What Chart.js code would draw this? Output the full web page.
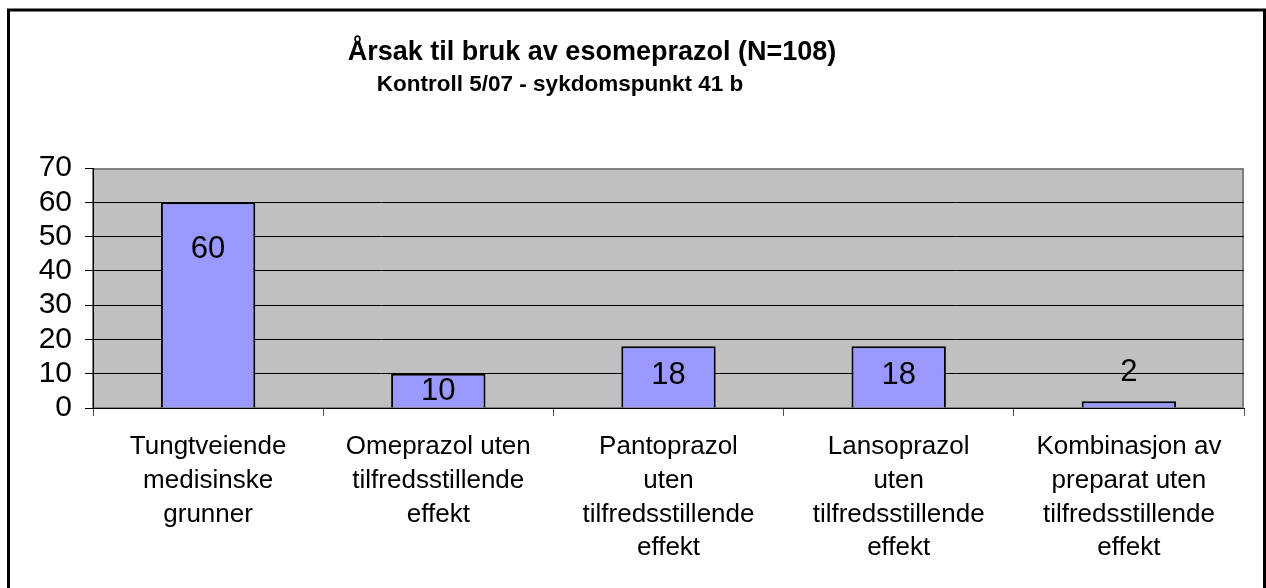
<!DOCTYPE html>
<html>
<head>
<meta charset="utf-8">
<script src="https://cdn.jsdelivr.net/npm/chart.js@4/dist/chart.umd.min.js"></script>
<style>
html,body{margin:0;padding:0;background:#fff;}
#wrap{width:1266px;height:588px;position:relative;}
</style>
</head>
<body>
<div id="wrap"><canvas id="c" width="1266" height="588"></canvas></div>
<script>
const titleText = "Årsak til bruk av esomeprazol (N=108)";
const subtitleText = "Kontroll 5/07 - sykdomspunkt 41 b";
const categories = [
  ["Tungtveiende", "medisinske", "grunner"],
  ["Omeprazol uten", "tilfredsstillende", "effekt"],
  ["Pantoprazol", "uten", "tilfredsstillende", "effekt"],
  ["Lansoprazol", "uten", "tilfredsstillende", "effekt"],
  ["Kombinasjon av", "preparat uten", "tilfredsstillende", "effekt"]
];
const values = [60, 10, 18, 18, 2];
const yTicks = [0, 10, 20, 30, 40, 50, 60, 70];
// pixel offsets of the value label centre below the bar top (negative = above)
const labelOffsets = [47, 18, 29, 29, -29];

const FONT = "'Liberation Sans', Arial, sans-serif";

const decorPlugin = {
  id: 'decor',
  beforeDraw(chart) {
    const {ctx, chartArea: a} = chart;
    ctx.save();
    ctx.fillStyle = '#c0c0c0';
    ctx.fillRect(a.left, a.top, a.right - a.left, a.bottom - a.top);
    ctx.strokeStyle = '#808080';
    ctx.lineWidth = 2;
    ctx.strokeRect(a.left, a.top + 1, a.right - a.left - 1, a.bottom - a.top - 1);
    // outer frame
    ctx.strokeStyle = '#000';
    ctx.lineWidth = 3;
    ctx.strokeRect(8.5, 10, 1256, 600);
    // titles
    ctx.fillStyle = '#000';
    ctx.textAlign = 'center';
    ctx.textBaseline = 'middle';
    ctx.font = 'bold 27px ' + FONT;
    ctx.fillText(titleText, 592, 53);
    ctx.font = 'bold 22.5px ' + FONT;
    ctx.fillText(subtitleText, 560, 85);
    ctx.restore();
  },
  afterDatasetsDraw(chart) {
    const {ctx} = chart;
    const meta = chart.getDatasetMeta(0);
    ctx.save();
    ctx.fillStyle = '#000';
    ctx.font = '31px ' + FONT;
    ctx.textAlign = 'center';
    ctx.textBaseline = 'middle';
    meta.data.forEach((bar, i) => {
      ctx.fillText(String(values[i]), bar.x, bar.y + labelOffsets[i]);
    });
    ctx.restore();
  }
};

new Chart(document.getElementById('c'), {
  type: 'bar',
  data: {
    labels: categories,
    datasets: [{
      data: values,
      backgroundColor: '#9999ff',
      borderColor: '#000',
      borderWidth: 2,
      barPercentage: 0.41,
      categoryPercentage: 1
    }]
  },
  options: {
    responsive: false,
    animation: false,
    layout: {padding: {left: 0, top: 168, right: 22, bottom: 0}},
    plugins: {legend: {display: false}, tooltip: {enabled: false}, title: {display: false}},
    scales: {
      x: {
        afterFit(s) { s.height = 180; },
        grid: {offset: true, drawOnChartArea: false, drawTicks: true, tickLength: 8, color: '#555', lineWidth: 1},
        border: {color: '#000', width: 1},
        ticks: {
          color: '#000',
          font: {family: FONT, size: 26, lineHeight: 1.3},
          padding: 14,
          maxRotation: 0,
          autoSkip: false
        }
      },
      y: {
        min: 0,
        max: 70,
        afterFit(s) { s.width = 93; },
        afterBuildTicks(s) { s.ticks = yTicks.map(v => ({value: v})); },
        grid: {
          color: c => (c.tick && c.tick.value === 70) ? 'rgba(0,0,0,0)' : '#000',
          tickColor: '#000',
          tickLength: 8,
          lineWidth: 1
        },
        border: {color: '#000', width: 1},
        ticks: {
          color: '#000',
          font: {family: FONT, size: 30},
          padding: 13,
          autoSkip: false
        }
      }
    }
  },
  plugins: [decorPlugin]
});
</script>
</body>
</html>
